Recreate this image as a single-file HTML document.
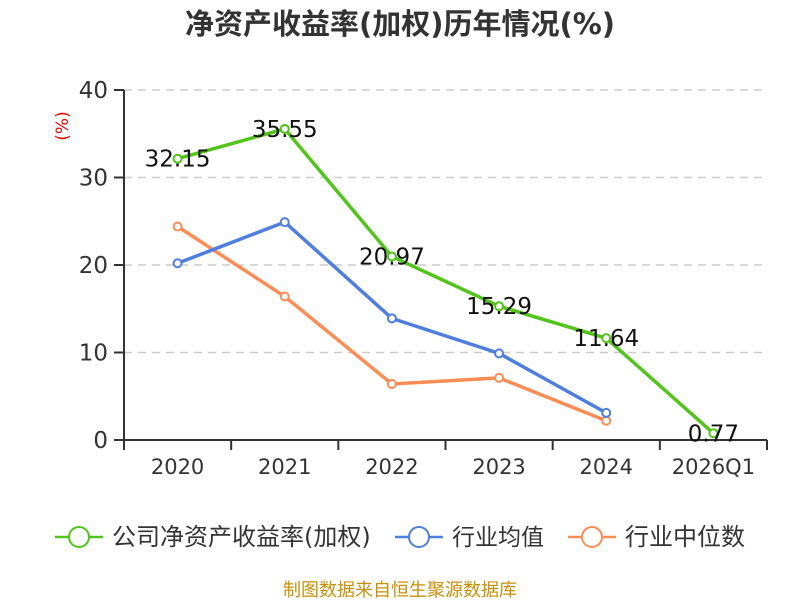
<!DOCTYPE html>
<html><head><meta charset="utf-8"><style>
body{margin:0;background:#fff;font-family:"DejaVu Sans","Noto Sans CJK SC",sans-serif}
</style></head><body>
<svg id="c" width="800" height="600" xmlns="http://www.w3.org/2000/svg">
<text x="400" y="34" text-anchor="middle" font-size="29" font-weight="bold" fill="#333">净资产收益率(加权)历年情况(%)</text>
<text x="68" y="126" font-size="17" fill="#e00" transform="rotate(-90 68 126)" text-anchor="middle">(%)</text>
<g id="g"></g>
<g>
<g><line x1="55" y1="537" x2="103" y2="537" stroke="#52c41a" stroke-width="2.5"/><circle cx="79" cy="537" r="10" fill="#fff" stroke="#52c41a" stroke-width="2"/><text x="112" y="545" font-size="24" fill="#333">公司净资产收益率(加权)</text></g>
<g><line x1="395" y1="537" x2="443" y2="537" stroke="#4f7ee0" stroke-width="2.5"/><circle cx="419" cy="537" r="10" fill="#fff" stroke="#4f7ee0" stroke-width="2"/><text x="452" y="545" font-size="23" fill="#333">行业均值</text></g>
<g><line x1="568" y1="537" x2="616" y2="537" stroke="#ff8c55" stroke-width="2.5"/><circle cx="592" cy="537" r="10" fill="#fff" stroke="#ff8c55" stroke-width="2"/><text x="625" y="545" font-size="24" fill="#333">行业中位数</text></g>
</g>
<text x="400" y="596" text-anchor="middle" font-size="18" fill="#c8900a">制图数据来自恒生聚源数据库</text>
</svg>
<script>
const categories=["2020","2021","2022","2023","2024","2026Q1"];
const company=[32.15,35.55,20.97,15.29,11.64,0.77];
const industryAvg=[20.2,24.9,13.9,9.9,3.1,null];
const industryMedian=[24.4,16.4,6.4,7.1,2.2,null];
const yTicks=[0,10,20,30,40];
const NS="http://www.w3.org/2000/svg";
const g=document.getElementById('g');
const x0=124,x1=767,yb=440,yt=90,ymax=40;
const bw=(x1-x0)/categories.length;
const X=i=>x0+bw*(i+0.5);
const Y=v=>yb-(v/ymax)*(yb-yt);
function el(t,a){const e=document.createElementNS(NS,t);for(const k in a)e.setAttribute(k,a[k]);g.appendChild(e);return e;}
yTicks.forEach(v=>{
 if(v>0){const l=el('line',{x1:x0,x2:x1,y1:Y(v),y2:Y(v),stroke:'#ccc','stroke-dasharray':'8,6','stroke-width':1.5});
 
 }
 const tk=el('line',{x1:x0-10,x2:x0,y1:Y(v),y2:Y(v),stroke:'#333','stroke-width':2});
 
 
 const t=el('text',{x:x0-16,y:Y(v)+8,'text-anchor':'end','font-size':23,fill:'#333'});t.textContent=v;
 
 
});
const ya=el('line',{x1:x0,x2:x0,y1:yt,y2:yb,stroke:'#333','stroke-width':2});


const xa=el('line',{x1:x0,x2:x1,y1:yb,y2:yb,stroke:'#333','stroke-width':2});


for(let i=0;i<=categories.length;i++){const tk=el('line',{x1:x0+bw*i,x2:x0+bw*i,y1:yb,y2:yb+10,stroke:'#333','stroke-width':2});
 
 }
categories.forEach((c,i)=>{const t=el('text',{x:X(i),y:474,'text-anchor':'middle','font-size':21,fill:'#333'});t.textContent=c;
 
 });
function series(d,col,name,labels){
 const pts=d.map((v,i)=>v==null?null:[X(i),Y(v)]).filter(p=>p);
 const p=el('polyline',{points:pts.map(p=>p.join(',')).join(' '),fill:'none',stroke:col,'stroke-width':3.5});
 
 
 d.forEach((v,i)=>{if(v==null)return;
  const c=el('circle',{cx:X(i),cy:Y(v),r:4,fill:'#fff',stroke:col,'stroke-width':2});
  
  
  if(labels){const t=el('text',{x:X(i),y:Y(v)+8,'text-anchor':'middle','font-size':23,fill:'#111'});t.textContent=v.toFixed(2);
   
   }
 });
}
series(industryMedian,'#ff8c55','industry-median',false);
series(industryAvg,'#4f7ee0','industry-avg',false);
series(company,'#52c41a','company',true);
</script>
</body></html>
